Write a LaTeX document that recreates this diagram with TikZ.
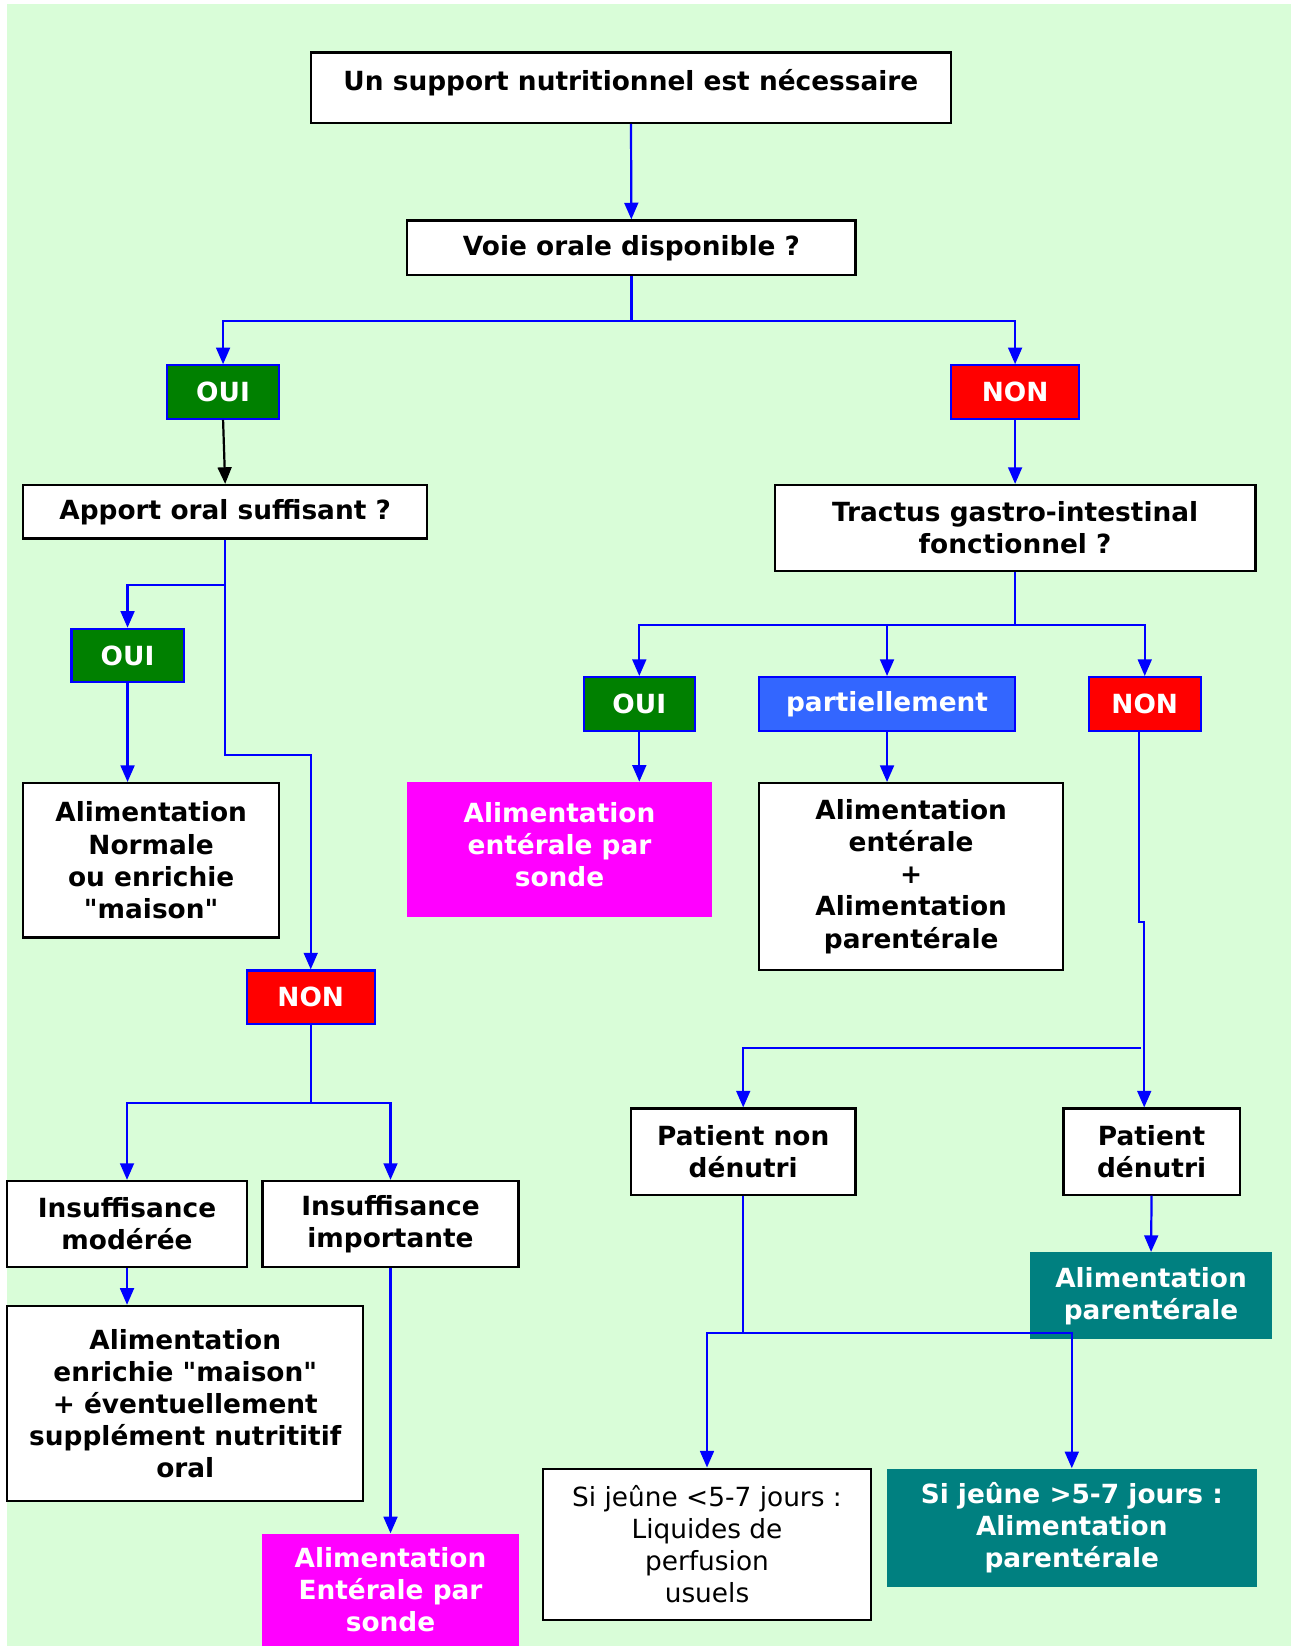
\documentclass[tikz,border=0pt]{standalone}
\usepackage{fontspec}
\setmainfont{DejaVu Sans}
\usepackage{tikz}
\usetikzlibrary{arrows.meta}
\definecolor{bggreen}{RGB}{217,253,216}
\definecolor{ouigreen}{RGB}{0,128,0}
\definecolor{partblue}{RGB}{51,102,255}
\definecolor{tealbg}{RGB}{0,128,128}
\definecolor{pinkmag}{RGB}{255,0,255}
\definecolor{linkblue}{RGB}{0,0,255}

\begin{document}
\begin{tikzpicture}[x=0.02cm, y=-0.02cm, >={Triangle[length=9pt, width=7.5pt]},
    every node/.style={inner sep=0pt, align=center, font=\fontsize{14.3}{17.4}\selectfont\bfseries},
    whitebox/.style={draw=black, fill=white, line width=1.2pt},
    ouibox/.style={draw=linkblue, fill=ouigreen, text=white, line width=1.2pt, minimum width=2.14cm, minimum height=1.02cm},
    nonbox/.style={draw=linkblue, fill=red, text=white, line width=1.2pt, minimum width=2.44cm, minimum height=1.02cm},
    magbox/.style={fill=pinkmag, text=white},
    tealbox/.style={fill=tealbg, text=white},
    link/.style={->, linkblue, line width=1.2pt}]
        \useasboundingbox (0, 0) rectangle (1230, 1568);
        \fill[white] (0, 0) rectangle (1230, 1568);
        \fill[bggreen] (7, 4) rectangle (1230, 1568);

        % Nodes
        \node[whitebox, minimum width=12.2cm, minimum height=1.34cm, text depth=0.3cm] (top) at (601, 83.5) {Un support nutritionnel est nécessaire};
        \node[whitebox, minimum width=8.54cm, minimum height=1.04cm] (voie) at (601.5, 236) {Voie orale disponible ?};
        \node[ouibox] (oui1) at (212.5, 373.5) {OUI};
        \node[nonbox] (non1) at (967, 373.5) {NON};
        \node[whitebox, minimum width=7.7cm, minimum height=1.02cm] (apport) at (214.5, 487.5) {Apport oral suffisant ?};
        \node[whitebox, minimum width=9.16cm, minimum height=1.64cm] (tractus) at (967, 503) {Tractus gastro-intestinal\\fonctionnel ?};

        \node[ouibox] (oui2) at (121.5, 624.5) {OUI};
        \node[whitebox, minimum width=4.88cm, minimum height=2.94cm] (normale) at (144, 819.5) {Alimentation\\Normale\\ou enrichie\\\textquotedbl maison\textquotedbl};
        \node[nonbox] (non2) at (296, 950) {NON};
        \node[whitebox, minimum width=4.56cm, minimum height=1.64cm] (moderee) at (121, 1166) {Insuffisance\\modérée};
        \node[whitebox, minimum width=4.88cm, minimum height=1.64cm] (importante) at (372, 1166) {Insuffisance\\importante};
        \node[whitebox, minimum width=6.78cm, minimum height=3.72cm] (enrichie) at (176.5, 1337) {Alimentation\\enrichie \textquotedbl maison\textquotedbl\\+ éventuellement\\supplément nutrititif\\oral};
        \node[magbox, minimum width=4.88cm, minimum height=2.14cm] (sonde) at (372, 1514.5) {Alimentation\\Entérale par\\sonde};

        \node[ouibox, minimum width=2.12cm] (oui3) at (609, 670.5) {OUI};
        \node[draw=linkblue, fill=partblue, text=white, line width=1.2pt, minimum width=4.88cm, minimum height=1.02cm] (partiel) at (845, 670.5) {partiellement};
        \node[nonbox, minimum width=2.14cm] (non3) at (1090.5, 670.5) {NON};
        \node[magbox, minimum width=5.8cm, minimum height=2.58cm, text depth=0.2cm] (enterale) at (533, 809.5) {Alimentation\\entérale par\\sonde};
        \node[whitebox, minimum width=5.8cm, minimum height=3.56cm] (mixte) at (868, 835) {Alimentation\\entérale\\+\\Alimentation\\parentérale};
        \node[whitebox, minimum width=4.28cm, minimum height=1.64cm] (nondenutri) at (708, 1097) {Patient non\\dénutri};
        \node[whitebox, minimum width=3.36cm, minimum height=1.64cm] (denutri) at (1097, 1097) {Patient\\dénutri};
        \node[tealbox, minimum width=4.62cm, minimum height=1.66cm] (parent) at (1096.5, 1234.5) {Alimentation\\parentérale};
        \node[whitebox, minimum width=6.26cm, minimum height=2.88cm, font=\fontsize{14.3}{17.4}\selectfont\mdseries] (court) at (673.5, 1471) {Si jeûne <5-7 jours :\\Liquides de\\perfusion\\usuels};
        \node[tealbox, minimum width=7.04cm, minimum height=2.26cm] (long) at (1021, 1455.5) {Si jeûne >5-7 jours :\\Alimentation\\parentérale};

        \coordinate (fork) at (1087, 998);

        % Directed edges
        \draw[link] (top) -- (voie);
        \draw[link] (voie.south) -- ++(0, 43) -| (oui1.north);
        \draw[link] (voie.south) -- ++(0, 43) -| (non1.north);
        \draw[->, black, line width=1.2pt] (oui1.south) -- (apport.north);
        \draw[link] (non1) -- (tractus);

        \draw[link] (apport.south) -- ++(0, 43) -| (oui2.north);
        \draw[link] (apport.south) -- ++(0, 205) -| (non2.north);
        \draw[link] (oui2.south) -- (oui2.south |- normale.north);
        \draw[link] (non2.south) -- ++(0, 74) -| (moderee.north);
        \draw[link] (non2.south) -- ++(0, 74) -| (importante.north);
        \draw[link] (moderee.south) -- (moderee.south |- enrichie.north);
        \draw[link] (importante.south) -- (importante.south |- sonde.north);

        \draw[link] (tractus.south) -- ++(0, 50) -| (oui3.north);
        \draw[link] (tractus.south) -- ++(0, 50) -| (partiel.north);
        \draw[link] (tractus.south) -- ++(0, 50) -| (non3.north);
        \draw[link] (oui3.south) -- (oui3.south |- enterale.north);
        \draw[link] (partiel.south) -- (partiel.south |- mixte.north);
        \draw[link] ([xshift=-0.11cm]non3.south) -- ++(0, 181) -- ++(5, 0) coordinate (jog) -- (jog |- denutri.north);
        \draw[link] (fork) -| (nondenutri.north);
        \draw[link] (denutri.south) -- (parent.north);
        \draw[link] (nondenutri.south) -- ++(0, 131) -| (court.north);
        \draw[link] (nondenutri.south) -- ++(0, 131) -| (long.north);
    \end{tikzpicture}
\end{document}
